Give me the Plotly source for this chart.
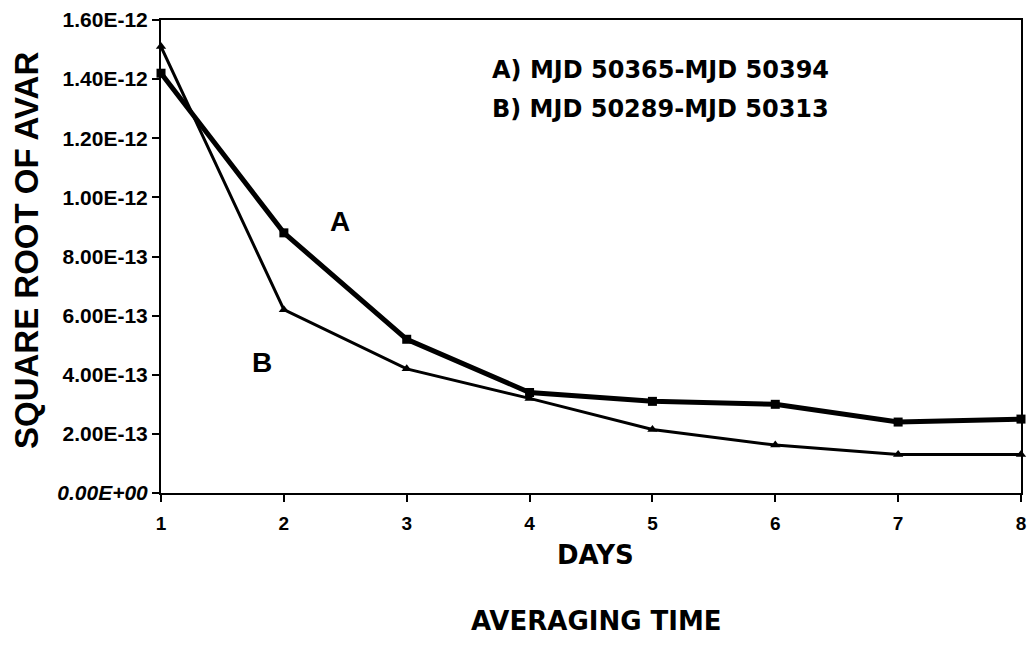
import plotly.graph_objects as go

days = [1, 2, 3, 4, 5, 6, 7, 8]
series_a = [1.42e-12, 8.8e-13, 5.2e-13, 3.4e-13, 3.1e-13, 3.0e-13, 2.4e-13, 2.5e-13]
series_b = [1.51e-12, 6.2e-13, 4.2e-13, 3.2e-13, 2.15e-13, 1.62e-13, 1.3e-13, 1.3e-13]
y_ticks = [0, 2e-13, 4e-13, 6e-13, 8e-13, 1.0e-12, 1.2e-12, 1.4e-12, 1.6e-12]
x_ticks = [1, 2, 3, 4, 5, 6, 7, 8]

y_text = []
for v in y_ticks:
    s = f"{v:.2E}"
    y_text.append(f"<i>{s}</i>" if v == 0 else s)

FONT = "Liberation Sans"
WIDE = "DejaVu Sans"

fig = go.Figure()
fig.add_trace(go.Scatter(x=days, y=series_a, mode="lines+markers",
                         line=dict(color="black", width=5),
                         marker=dict(symbol="square", size=9, color="black"),
                         name="A", cliponaxis=False))
fig.add_trace(go.Scatter(x=days, y=series_b, mode="lines+markers",
                         line=dict(color="black", width=3),
                         marker=dict(symbol="triangle-up", size=9, color="black"),
                         name="B", cliponaxis=False))

fig.update_layout(
    width=1029, height=646,
    margin=dict(l=161, r=8, t=20, b=153),
    paper_bgcolor="white", plot_bgcolor="white",
    showlegend=False,
    font=dict(family=FONT, color="black"),
    xaxis=dict(range=[0.9999, 8.0001], tickvals=x_ticks, ticktext=[str(t) for t in x_ticks],
               automargin=False,
               showgrid=False, zeroline=False, showline=True, linecolor="black",
               linewidth=2, mirror=True, ticks="outside", ticklen=7, tickwidth=1.5,
               tickcolor="black", ticklabeloverflow="allow", ticklabelstandoff=5,
               tickfont=dict(family=FONT, size=19, color="black", weight="bold")),
    yaxis=dict(range=[0, 1.6e-12], tickvals=y_ticks, ticktext=y_text,
               automargin=False,
               showgrid=False, zeroline=False, showline=True, linecolor="black",
               linewidth=2, mirror=True, ticks="outside", ticklen=7, tickwidth=1.5,
               tickcolor="black", ticklabeloverflow="allow",
               tickfont=dict(family=FONT, size=21, color="black", weight="bold")),
)

fig.add_annotation(text="SQUARE ROOT OF AVAR", xref="paper", yref="paper",
                   x=-0.1556, y=0.512, textangle=-90, showarrow=False,
                   xanchor="center", yanchor="middle",
                   font=dict(family=FONT, size=33, color="black", weight="bold"))
fig.add_annotation(text="DAYS", xref="paper", yref="paper", x=0.505, y=-0.131,
                   showarrow=False, xanchor="center", yanchor="middle",
                   font=dict(family=WIDE, size=26, color="black", weight="bold"))
fig.add_annotation(text="AVERAGING TIME", xref="paper", yref="paper", x=0.506, y=-0.271,
                   showarrow=False, xanchor="center", yanchor="middle",
                   font=dict(family=WIDE, size=26, color="black", weight="bold"))
fig.add_annotation(text="A) MJD 50365-MJD 50394", xref="paper", yref="paper",
                   x=0.382, y=0.894, showarrow=False, xanchor="left", yanchor="middle",
                   font=dict(family=WIDE, size=24, color="black", weight="bold"))
fig.add_annotation(text="B) MJD 50289-MJD 50313", xref="paper", yref="paper",
                   x=0.382, y=0.812, showarrow=False, xanchor="left", yanchor="middle",
                   font=dict(family=WIDE, size=24, color="black", weight="bold"))
fig.add_annotation(text="A", x=2.455, y=9.2e-13, showarrow=False,
                   font=dict(family=FONT, size=28, color="black", weight="bold"))
fig.add_annotation(text="B", x=1.82, y=4.43e-13, showarrow=False,
                   font=dict(family=FONT, size=28, color="black", weight="bold"))

fig.write_html("out.html", config={"displayModeBar": False},
               post_script="document.body.style.margin='0';document.body.style.overflow='hidden';")
